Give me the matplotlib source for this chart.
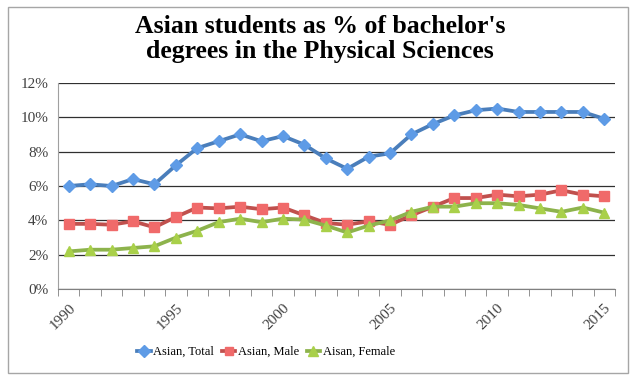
#! /usr/bin/env python3
# coding: utf-8

import matplotlib
matplotlib.use("Agg")
import matplotlib.pyplot as plt
from matplotlib.patches import Rectangle
from matplotlib.ticker import FuncFormatter

####
# Les donnees
####

annees = list(range(1990, 2016))

asian_total = [6.0, 6.1, 6.0, 6.4, 6.1, 7.2, 8.2, 8.6, 9.0, 8.6, 8.9, 8.4, 7.6,
               7.0, 7.7, 7.9, 9.0, 9.6, 10.1, 10.4, 10.5, 10.3, 10.3, 10.3, 10.3, 9.9]
asian_male = [3.8, 3.8, 3.75, 3.95, 3.6, 4.2, 4.75, 4.7, 4.8, 4.65, 4.75, 4.3, 3.85,
              3.75, 3.95, 3.75, 4.3, 4.8, 5.3, 5.3, 5.5, 5.4, 5.5, 5.75, 5.5, 5.4]
asian_female = [2.2, 2.3, 2.3, 2.4, 2.5, 3.0, 3.4, 3.9, 4.1, 3.9, 4.1, 4.05, 3.7,
                3.3, 3.7, 4.0, 4.5, 4.8, 4.8, 5.0, 5.0, 4.9, 4.7, 4.5, 4.75, 4.45]

labels_series = ["Asian, Total", "Asian, Male", "Aisan, Female"]
annees_affichees = [1990, 1995, 2000, 2005, 2010, 2015]

####
# Le graphique
####

plt.rcParams['font.family'] = ['Liberation Serif', 'DejaVu Serif']

fig = plt.figure(figsize=(6.4, 3.81), dpi=100)
ax = fig.add_axes([58 / 640, 1 - 289.3 / 381, 557 / 640, 206.6 / 381])

# cadre du graphique
fig.patches.append(Rectangle((8 / 640, 1 - 373 / 381), 620 / 640, 366 / 381,
                             transform=fig.transFigure, fill=False,
                             edgecolor="#a6a6a6", linewidth=1))

x = range(len(annees))
styles = [
    (asian_total, "#4a7ebb", "#5e9be6", "D", 6.5),
    (asian_male, "#c0504d", "#f06a6a", "s", 6.5),
    (asian_female, "#8db34c", "#a9d04a", "^", 7.5),
]
for (serie, couleur_ligne, couleur_marque, marque, taille), nom in zip(styles, labels_series):
    ax.plot(x, serie, color=couleur_ligne, linewidth=2.7, marker=marque,
            markersize=taille, markerfacecolor=couleur_marque,
            markeredgecolor=couleur_marque, label=nom, zorder=3)

ax.set_xlim(-0.5, len(annees) - 0.5)
ax.set_ylim(0, 12)
ax.set_yticks(range(0, 13, 2))
ax.yaxis.set_major_formatter(FuncFormatter(lambda v, p: f"{int(v)}%"))
ax.tick_params(axis="y", length=0, pad=7, labelsize=11, labelcolor="#404040")
ax.grid(axis="y", color="#303030", linewidth=0.9)
ax.set_axisbelow(True)

# graduations entre les categories
ax.set_xticks([i - 0.5 for i in range(len(annees) + 1)], minor=True)
ax.tick_params(axis="x", which="minor", length=5, direction="out", color="#808080")
ax.set_xticks([annees.index(a) for a in annees_affichees])
ax.set_xticklabels([str(a) for a in annees_affichees], rotation=45, ha="right",
                   rotation_mode="anchor", fontsize=11, color="#404040")
ax.tick_params(axis="x", which="major", length=0, pad=9)

for cote in ["top", "right"]:
    ax.spines[cote].set_visible(False)
ax.spines["left"].set_color("#a0a0a0")
ax.spines["bottom"].set_color("#808080")

fig.text(0.5, 1 - 39 / 381, "Asian students as % of bachelor's\ndegrees in the Physical Sciences",
         ha="center", va="center", fontsize=18.5, fontweight="bold", linespacing=1.15)

fig.legend(loc="center", bbox_to_anchor=(266 / 640, 1 - 352 / 381), ncol=3,
           frameon=False, fontsize=9, handlelength=1.1, handletextpad=0.2,
           columnspacing=0.6, markerscale=0.9)

fig.savefig("out.png", dpi=100)
